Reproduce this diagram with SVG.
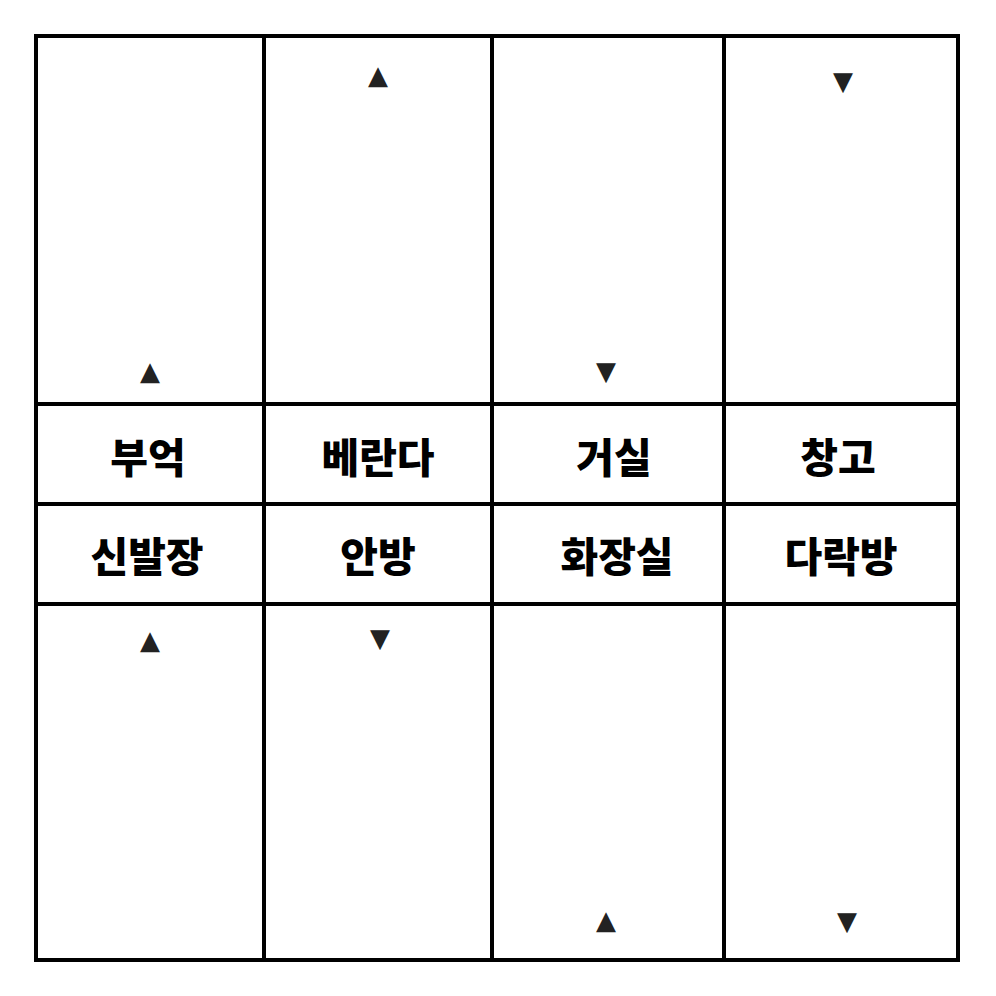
<svg xmlns="http://www.w3.org/2000/svg" width="996" height="996" viewBox="0 0 996 996">
<style>
.wall{stroke:#000;stroke-width:4;fill:none}
.lbl{font-family:"Noto Sans CJK KR","Noto Sans CJK SC",sans-serif;font-weight:900;font-size:41px;fill:#000;text-anchor:middle}
.door{font-family:"DejaVu Sans",sans-serif;font-size:26px;fill:#222;text-anchor:middle}
</style>
<rect width="996" height="996" fill="#fff"/>
<g id="walls">
<rect class="wall" x="36" y="36" width="922" height="924"/>
<line class="wall" x1="264" y1="36" x2="264" y2="960"/>
<line class="wall" x1="492" y1="36" x2="492" y2="960"/>
<line class="wall" x1="724" y1="36" x2="724" y2="960"/>
<line class="wall" x1="36" y1="404" x2="958" y2="404"/>
<line class="wall" x1="36" y1="504" x2="958" y2="504"/>
<line class="wall" x1="36" y1="604" x2="958" y2="604"/>
</g>
<g id="labels">
<text class="lbl" x="148" y="473">부억</text>
<text class="lbl" x="378" y="473">베란다</text>
<text class="lbl" x="614" y="473">거실</text>
<text class="lbl" x="838" y="473">창고</text>
<text class="lbl" x="147" y="572">신발장</text>
<text class="lbl" x="378" y="572">안방</text>
<text class="lbl" x="617" y="572">화장실</text>
<text class="lbl" x="841" y="572">다락방</text>
</g>
<g id="doors">
<text class="door" x="150" y="380">▲</text>
<text class="door" x="378" y="84">▲</text>
<text class="door" x="606" y="380">▼</text>
<text class="door" x="843" y="90">▼</text>
<text class="door" x="150" y="649">▲</text>
<text class="door" x="380" y="647">▼</text>
<text class="door" x="606" y="929">▲</text>
<text class="door" x="847" y="930">▼</text>
</g>
</svg>
